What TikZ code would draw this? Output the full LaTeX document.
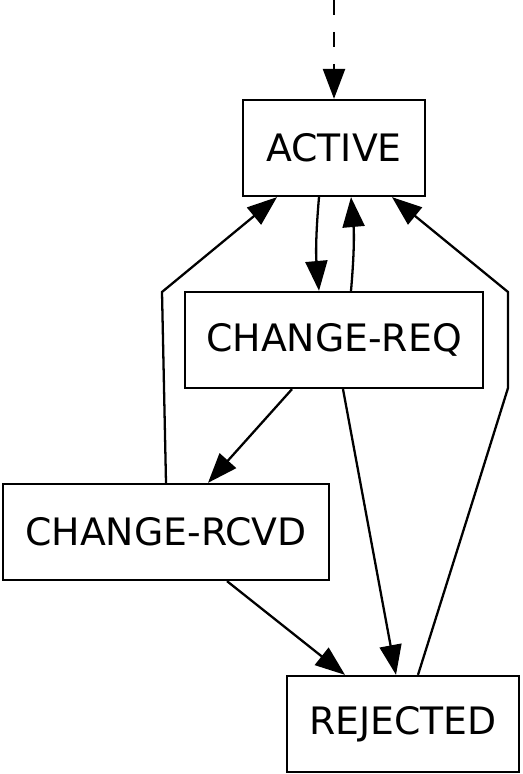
\documentclass[tikz,border=0pt]{standalone}
\usepackage{fontspec}
\setmainfont{DejaVu Sans}
\usetikzlibrary{arrows.meta}

\tikzset{
  state/.style={draw, line width=1.3pt, inner sep=0pt, minimum height=1.92cm,
    font=\fontsize{21.5}{25}\selectfont},
}

\begin{document}
\begin{tikzpicture}[>={Triangle[length=17pt,width=12.5pt]}, line width=1.3pt]
  \useasboundingbox (0,0) rectangle (10.44,15.48);
% define the states in the machine
  \node[state, minimum width=3.64cm] (active)  at (6.68,12.52) {ACTIVE};
  \node[state, minimum width=5.96cm] (chgreq)  at (6.68,8.68)  {CHANGE-REQ};
  \node[state, minimum width=6.52cm] (chgrcvd) at (3.32,4.84)  {CHANGE-RCVD};
  \node[state, minimum width=4.64cm] (rejected) at (8.06,1.00) {REJECTED};
  \coordinate (start) at (6.68,15.48);

% define the links
  \draw[->, dashed, dash pattern=on 0.3cm off 0.34cm] (start) -- (active.north);
  \path[->] ([xshift=-0.3cm]active.south) edge [bend right=5] ([xshift=-0.3cm]chgreq.north)
        ([xshift=0.34cm]chgreq.north) edge [bend right=5] ([xshift=0.34cm]active.south)
        ([xshift=-0.84cm]chgreq.south) edge ([xshift=0.84cm]chgrcvd.north)
        ([xshift=0.18cm]chgreq.south) edge ([xshift=-0.14cm]rejected.north)
        ([xshift=1.22cm]chgrcvd.south) edge ([xshift=-1.16cm]rejected.north);
  \draw[->] (chgrcvd.north) -- (3.24,9.64) -- ([xshift=-1.14cm]active.south);
  \draw[->] ([xshift=0.3cm]rejected.north) -- (9.46,5.48) -- (10.16,7.72)
        -- (10.16,9.64) -- ([xshift=1.16cm]active.south);
\end{tikzpicture}
\end{document}
